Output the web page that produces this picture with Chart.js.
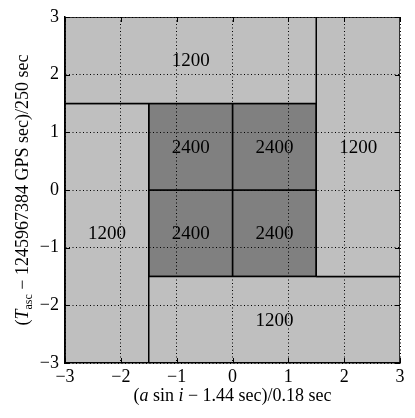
<!DOCTYPE html>
<html>
<head>
<meta charset="utf-8">
<script src="https://cdn.jsdelivr.net/npm/chart.js@4.4.1/dist/chart.umd.min.js"></script>
<style>
  html, body { margin: 0; padding: 0; background: #fff; }
  #wrap { width: 415px; height: 418px; }
</style>
</head>
<body>
<div id="wrap"><canvas id="grid" width="415" height="418"></canvas></div>
<script>
// template regions: x range, y range, number of templates
var xLo = [-3, 1.5, -1.5, -3, -1.5, 0, -1.5, 0];
var xHi = [1.5, 3, 3, -1.5, 0, 1.5, 0, 1.5];
var yLo = [1.5, -1.5, -3, -3, 0, 0, -1.5, -1.5];
var yHi = [3, 3, -1.5, 1.5, 1.5, 1.5, 0, 0];
var counts = [1200, 1200, 1200, 1200, 2400, 2400, 2400, 2400];
var tickVals = [-3, -2, -1, 0, 1, 2, 3];

var serif = "'Liberation Serif', 'DejaVu Serif', serif";

function fillFor(n) {
	return n > 1500 ? "#808080" : "#bfbfbf";
}

var datasets = [];
for (var i = 0; i < counts.length; i++) {
	datasets.push({
		label : "" + counts[i],
		data : [ {x : xLo[i], y : yLo[i]}, {x : xHi[i], y : yLo[i]},
				{x : xHi[i], y : yHi[i]}, {x : xLo[i], y : yHi[i]},
				{x : xLo[i], y : yLo[i]} ],
		showLine : true,
		fill : 'shape',
		backgroundColor : fillFor(counts[i]),
		borderColor : "#000",
		borderWidth : 1.5,
		pointRadius : 0,
		tension : 0
	});
}

function minus(v) {
	return v < 0 ? "\u2212" + Math.abs(v) : "" + v;
}

// draw a run of text pieces with different fonts
function drawPieces(ctx, pieces, cx, baseY) {
	var total = 0;
	pieces.forEach(function(p) {
		ctx.font = p.f;
		p.w = ctx.measureText(p.t).width;
		total += p.w;
	});
	var x = cx - total / 2;
	ctx.textAlign = "left";
	ctx.textBaseline = "alphabetic";
	pieces.forEach(function(p) {
		ctx.font = p.f;
		ctx.fillText(p.t, x, baseY + (p.dy || 0));
		x += p.w;
	});
}

var labelsPlugin = {
	id : "cellLabels",
	afterDraw : function(chart) {
		var ctx = chart.ctx;
		var xs = chart.scales.x, ys = chart.scales.y;
		var a = chart.chartArea;
		ctx.save();
		// counts in each region
		ctx.fillStyle = "#000";
		ctx.font = "19px " + serif;
		ctx.textAlign = "center";
		ctx.textBaseline = "middle";
		for (var i = 0; i < counts.length; i++) {
			var px = xs.getPixelForValue((xLo[i] + xHi[i]) / 2);
			var py = ys.getPixelForValue((yLo[i] + yHi[i]) / 2);
			ctx.fillText("" + counts[i], px, py + 1);
		}
		// inward ticks on all four sides
		ctx.strokeStyle = "#000";
		ctx.lineWidth = 1;
		ctx.beginPath();
		tickVals.forEach(function(v) {
			var px = Math.round(xs.getPixelForValue(v)) + 0.5;
			ctx.moveTo(px, a.bottom); ctx.lineTo(px, a.bottom - 5);
			ctx.moveTo(px, a.top); ctx.lineTo(px, a.top + 5);
			var py = Math.round(ys.getPixelForValue(v)) + 0.5;
			ctx.moveTo(a.left, py); ctx.lineTo(a.left + 5, py);
			ctx.moveTo(a.right, py); ctx.lineTo(a.right - 5, py);
		});
		ctx.stroke();
		// axis titles
		var rm = "18px " + serif, it = "italic 18px " + serif, sm = "12px " + serif;
		drawPieces(ctx, [ {t : "(", f : rm}, {t : "a", f : it}, {t : " sin ", f : rm},
				{t : "i", f : it}, {t : " \u2212 1.44 sec)/0.18 sec", f : rm} ],
				(a.left + a.right) / 2, 401);
		ctx.translate(28, (a.top + a.bottom) / 2);
		ctx.rotate(-Math.PI / 2);
		drawPieces(ctx, [ {t : "(", f : rm}, {t : "T", f : it}, {t : "asc", f : sm, dy : 4},
				{t : " \u2212 1245967384 GPS sec)/250 sec", f : rm} ], 0, 0);
		ctx.restore();
	}
};

var ctx = document.getElementById("grid").getContext("2d");
var chart = new Chart(ctx, {
	type : "scatter",
	data : { datasets : datasets },
	options : {
		responsive : false,
		animation : false,
		layout : { padding : { top : 17, right : 15, left : 0, bottom : 0 } },
		plugins : { legend : { display : false }, tooltip : { enabled : false } },
		scales : {
			x : {
				type : "linear", min : -3, max : 3,
				afterFit : function(s) { s.height = 55; },
				afterBuildTicks : function(s) { s.ticks = tickVals.map(function(v) { return {value : v}; }); },
				grid : { color : "#000", lineWidth : 1, drawTicks : false, z : 1 },
				border : { display : true, color : "#000", width : 1.5, dash : [1, 2.5], z : 1 },
				ticks : { color : "#000", padding : 3, font : { family : serif, size : 18 },
					callback : function(v) { return minus(v); } }
			},
			y : {
				type : "linear", min : -3, max : 3,
				afterFit : function(s) { s.width = 65; },
				afterBuildTicks : function(s) { s.ticks = tickVals.map(function(v) { return {value : v}; }); },
				grid : { color : "#000", lineWidth : 1, drawTicks : false, z : 1 },
				border : { display : true, color : "#000", width : 1.5, dash : [1, 2.5], z : 1 },
				ticks : { color : "#000", padding : 6, font : { family : serif, size : 18 },
					callback : function(v) { return minus(v); } }
			}
		}
	},
	plugins : [ labelsPlugin ]
});
</script>
</body>
</html>
